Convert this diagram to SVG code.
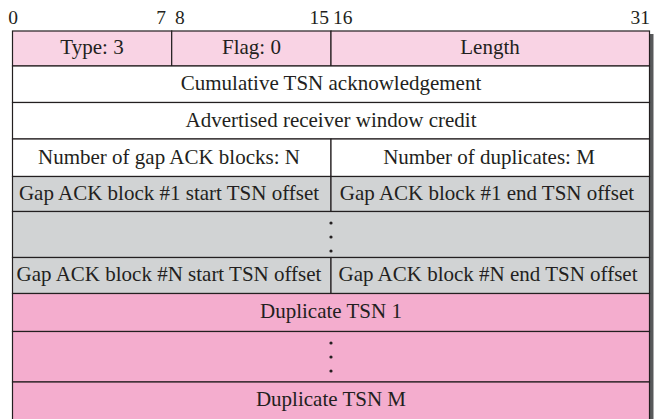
<svg xmlns="http://www.w3.org/2000/svg" width="656" height="419" viewBox="0 0 656 419">
<style>
.t{font-family:"Liberation Serif","Times New Roman",serif;font-size:21px;fill:#231F20;text-anchor:middle}
.b{font-family:"Liberation Serif","Times New Roman",serif;font-size:19.5px;fill:#231F20}
.c{stroke:#231F20;stroke-width:1.2}
.hp{fill:#F9D3E4}
.w{fill:#FFFFFF}
.g{fill:#D1D3D4}
.p{fill:#F4ADCE}
.d{fill:#231F20}
</style>
<rect width="656" height="419" fill="#FFFFFF"/>
<rect x="650" y="34" width="3.5" height="385" fill="#58595B"/>
<g id="bits">
<text class="b" x="13" y="23.5" text-anchor="middle">0</text>
<text class="b" x="166" y="23.5" text-anchor="end">7</text>
<text class="b" x="175" y="23.5">8</text>
<text class="b" x="329" y="23.5" text-anchor="end">15</text>
<text class="b" x="333" y="23.5">16</text>
<text class="b" x="650" y="23.5" text-anchor="end">31</text>
</g>
<g id="type"><rect class="hp c" x="12.5" y="31" width="159.2" height="35"/><text class="t" x="92" y="54">Type: 3</text></g>
<g id="flag"><rect class="hp c" x="171.7" y="31" width="159.3" height="35"/><text class="t" x="251.5" y="54">Flag: 0</text></g>
<g id="length"><rect class="hp c" x="331" y="31" width="318.5" height="35"/><text class="t" x="490" y="54">Length</text></g>
<g id="cumtsn"><rect class="w c" x="12.5" y="66" width="637" height="36.5"/><text class="t" x="331" y="90">Cumulative TSN acknowledgement</text></g>
<g id="arwc"><rect class="w c" x="12.5" y="102.5" width="637" height="36.5"/><text class="t" x="331" y="126.5">Advertised receiver window credit</text></g>
<g id="ngap"><rect class="w c" x="12.5" y="139" width="318.5" height="37.5"/><text class="t" x="169" y="163.5">Number of gap ACK blocks: N</text></g>
<g id="ndup"><rect class="w c" x="331" y="139" width="318.5" height="37.5"/><text class="t" x="489" y="163.5">Number of duplicates: M</text></g>
<g id="gap1s"><rect class="g c" x="12.5" y="176.5" width="318.5" height="35"/><text class="t" x="169" y="199.5">Gap ACK block #1 start TSN offset</text></g>
<g id="gap1e"><rect class="g c" x="331" y="176.5" width="318.5" height="35"/><text class="t" x="487" y="199.5">Gap ACK block #1 end TSN offset</text></g>
<g id="gapdots"><rect class="g c" x="12.5" y="211.5" width="637" height="46"/><circle class="d" cx="331" cy="223" r="1.6"/><circle class="d" cx="331" cy="237" r="1.6"/><circle class="d" cx="331" cy="251" r="1.6"/></g>
<g id="gapNs"><rect class="g c" x="12.5" y="257.5" width="318.5" height="36"/><text class="t" x="169" y="281">Gap ACK block #N start TSN offset</text></g>
<g id="gapNe"><rect class="g c" x="331" y="257.5" width="318.5" height="36"/><text class="t" x="488" y="281">Gap ACK block #N end TSN offset</text></g>
<g id="dup1"><rect class="p c" x="12.5" y="293.5" width="637" height="38"/><text class="t" x="331" y="318">Duplicate TSN 1</text></g>
<g id="dupdots"><rect class="p c" x="12.5" y="331.5" width="637" height="50.5"/><circle class="d" cx="331" cy="343" r="1.6"/><circle class="d" cx="331" cy="357" r="1.6"/><circle class="d" cx="331" cy="371" r="1.6"/></g>
<g id="dupM"><rect class="p c" x="12.5" y="382" width="637" height="40"/><text class="t" x="331" y="405.5">Duplicate TSN M</text></g>
<g id="connectors"></g>
</svg>
